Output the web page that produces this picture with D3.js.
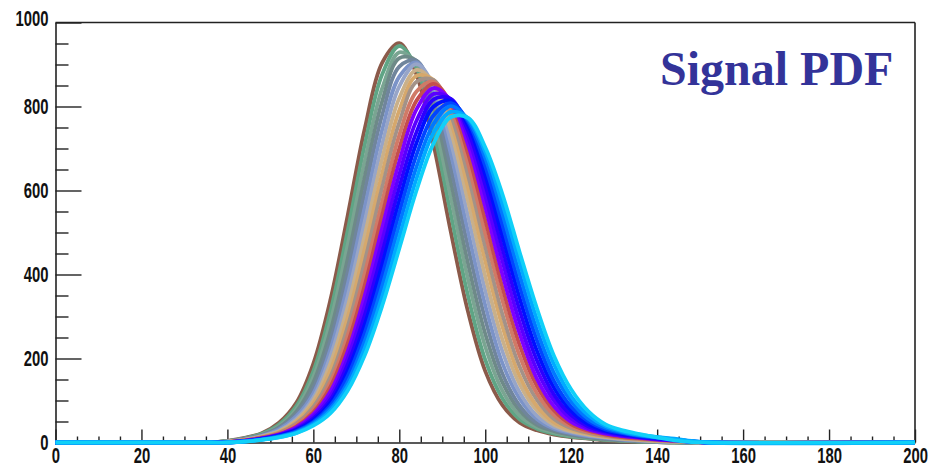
<!DOCTYPE html>
<html>
<head>
<meta charset="utf-8">
<script src="https://cdn.jsdelivr.net/npm/d3@7"></script>
<style>
  html, body { margin: 0; padding: 0; background: #ffffff; }
  svg { display: block; }
</style>
</head>
<body>
<script>
// ---------------- data ----------------
const massPoints = [0,36,40,44,48,52,56,60,64,68,72,76,80,84,88,92,96,100,104,108,112,116,120,124,128,132,136,140,144,148,152,200];

const xTicks = [0,20,40,60,80,100,120,140,160,180,200];
const xMinorTicks = [5,10,15,25,30,35,45,50,55,65,70,75,85,90,95,105,110,115,125,130,135,145,150,155,165,170,175,185,190,195];
const yTicks = [0,200,400,600,800,1000];
const yMinorTicks = [50,100,150,250,300,350,450,500,550,650,700,750,850,900,950];

const c00 = [0, 0,4,11,22,47,94,188,341,541,749,904,951,876,708,501,311,170,89,47,29,19,13,9,5,3,2,1,0,0,0, 0];
const c01 = [0, 0,3,10,21,43,86,170,313,505,711,876,944,892,742,543,349,197,105,55,33,21,14,10,6,4,2,1,0,0,0, 0];
const c02 = [0, 0,3,9,19,39,79,156,289,471,672,843,929,901,771,583,388,228,123,64,37,24,16,11,7,5,3,1,1,0,0, 0];
const c03 = [0, 0,3,9,18,36,73,143,266,438,634,812,915,909,799,620,426,259,143,76,42,27,18,12,8,5,3,2,1,0,0, 0];
const c04 = [0, 0,2,8,17,34,67,129,244,406,598,779,895,909,818,654,465,293,164,88,47,30,20,14,9,6,4,2,1,0,0, 0];
const c05 = [0, 0,2,7,16,31,62,117,223,377,562,744,871,905,836,687,502,327,189,104,56,33,22,15,11,7,5,3,2,1,0, 0];
const c06 = [0, 0,2,7,15,28,56,107,206,349,528,709,848,901,849,715,539,362,217,120,64,37,25,17,12,8,5,3,2,1,0, 0];
const c07 = [0, 0,2,6,14,26,52,100,189,323,495,675,820,887,856,741,574,396,245,139,76,42,27,19,13,9,6,4,2,1,0, 0];
const c08 = [0, 0,1,6,13,25,49,92,173,298,463,640,791,873,863,764,606,432,276,158,87,48,31,21,14,10,7,4,3,1,0, 0];
const c09 = [0, 0,1,5,12,23,45,85,157,276,433,607,762,859,863,780,636,466,305,181,102,56,34,23,16,11,8,5,3,1,0, 0];
const c10 = [0, 0,1,5,12,22,42,78,145,256,404,573,732,836,859,796,664,498,338,206,117,65,38,25,17,12,9,6,4,1,0, 0];
const c11 = [0, 0,1,5,11,20,38,72,133,236,376,541,700,814,854,807,688,530,369,232,135,76,43,28,19,13,10,7,4,2,0, 0];
const c12 = [0, 0,1,4,10,19,36,67,122,217,351,510,669,793,844,812,709,561,400,259,152,86,49,31,21,15,11,7,5,2,0, 0];
const c13 = [0, 0,1,4,9,18,33,62,111,201,327,480,638,766,830,817,728,588,432,286,173,100,57,34,23,16,12,8,5,2,0, 0];
const c14 = [0, 0,1,4,9,17,31,57,102,186,304,451,607,739,817,818,742,614,462,315,196,114,65,38,26,18,13,9,6,2,0, 0];
const c15 = [0, 0,0,3,8,16,29,53,95,171,282,423,576,713,800,813,755,638,491,344,219,130,75,43,28,20,14,10,6,2,0, 0];
const c16 = [0, 0,0,3,8,15,27,49,88,158,262,397,547,685,779,808,764,658,518,372,244,146,85,50,31,22,15,11,7,3,0, 0];
const c17 = [0, 0,0,3,7,14,25,46,82,144,243,372,518,656,759,801,768,677,544,400,268,165,98,56,35,24,17,12,8,3,0, 0];
const c18 = [0, 0,0,2,7,13,23,43,76,134,226,347,489,628,738,787,772,692,568,428,294,186,110,65,39,26,18,13,9,4,0, 0];
const c19 = [0, 0,0,2,6,12,22,40,70,124,209,325,462,600,713,775,773,703,591,453,320,206,126,74,43,29,20,12,5,1,0, 0];

const curves = [c00,c01,c02,c03,c04,c05,c06,c07,c08,c09,c10,c11,c12,c13,c14,c15,c16,c17,c18,c19];
const curveColors = [
  "#8b5a4a","#5fa585","#7aa592","#6e8a88","#70859c","#7b93c8","#97a5c8","#c9b08a","#d6a86c","#a39288",
  "#d07a66","#c44e4e","#8000ff","#5a00ff","#2c00ff","#0010ff","#0045ff","#0078ff","#00aaff","#10d0f8"
];
const titleText = "Signal PDF";

// ---------------- drawing ----------------
const W = 929, H = 467;
const svg = d3.select("body").append("svg").attr("width", W).attr("height", H);
svg.append("rect").attr("width", W).attr("height", H).attr("fill", "#ffffff");

const x = d3.scaleLinear().domain([0, 200]).range([55.5, 915]);
const y = d3.scaleLinear().domain([0, 1000]).range([442.5, 22.5]);

const axisColor = "#222";
const labelScale = 0.69;
function styleAxis(g) {
  g.select(".domain").attr("stroke", axisColor).attr("stroke-width", 1.6);
  g.selectAll(".tick line").attr("stroke", axisColor).attr("stroke-width", 1.4);
  g.selectAll(".tick text")
    .style("font-family", "'Liberation Sans', Arial, Helvetica, sans-serif")
    .style("font-weight", "bold")
    .style("font-size", "21.5px")
    .attr("fill", "#111");
}

// y axis minor
svg.append("g").attr("transform", `translate(${x(0)},0)`)
  .call(d3.axisLeft(y).tickValues(yMinorTicks).tickSize(-13).tickFormat(""))
  .call(g => g.select(".domain").remove())
  .call(g => g.selectAll(".tick line").attr("stroke", axisColor).attr("stroke-width", 1.4));
// y axis major
svg.append("g").attr("transform", `translate(${x(0)},0)`)
  .call(d3.axisLeft(y).tickValues(yTicks).tickSize(-26).tickSizeOuter(0).tickPadding(7).tickFormat(d3.format("d")))
  .call(styleAxis)
  .call(g => g.selectAll(".tick text")
    .attr("x", -7 / labelScale)
    .attr("dy", d => d === 1000 ? "0.12em" : "0.32em")
    .attr("transform", `scale(${labelScale},1)`));

// x axis minor
svg.append("g").attr("transform", `translate(0,${y(0)})`)
  .call(d3.axisBottom(x).tickValues(xMinorTicks).tickSize(-6).tickFormat(""))
  .call(g => g.select(".domain").remove())
  .call(g => g.selectAll(".tick line").attr("stroke", axisColor).attr("stroke-width", 1.4));
// x axis major
svg.append("g").attr("transform", `translate(0,${y(0)})`)
  .call(d3.axisBottom(x).tickValues(xTicks).tickSize(-13).tickSizeOuter(0).tickPadding(5).tickFormat(d3.format("d")))
  .call(styleAxis)
  .call(g => g.selectAll(".tick text").attr("transform", `scale(${labelScale},1)`));

// frame top and right
svg.append("line").attr("x1", x(0)).attr("x2", x(200)).attr("y1", y(1000)).attr("y2", y(1000))
  .attr("stroke", axisColor).attr("stroke-width", 1.6);
svg.append("line").attr("x1", x(200)).attr("x2", x(200)).attr("y1", y(1000)).attr("y2", y(0))
  .attr("stroke", axisColor).attr("stroke-width", 1.6);

// curves
const line = d3.line()
  .x(d => x(d[0]))
  .y(d => y(d[1]))
  .curve(d3.curveCatmullRom.alpha(0.5));

svg.append("g").selectAll("path")
  .data(curves)
  .join("path")
  .attr("d", vals => line(massPoints.map((m, i) => [m, vals[i]])))
  .attr("fill", "none")
  .attr("stroke", (d, i) => curveColors[i])
  .attr("stroke-width", 3.8)
  .attr("stroke-linejoin", "round")
  .attr("stroke-linecap", "butt");

// title
svg.append("text")
  .attr("x", 660).attr("y", 85)
  .style("font-family", "'Liberation Serif', 'Times New Roman', serif")
  .style("font-weight", "bold")
  .style("font-size", "48px")
  .attr("fill", "#333399")
  .text(titleText);
</script>
</body>
</html>
